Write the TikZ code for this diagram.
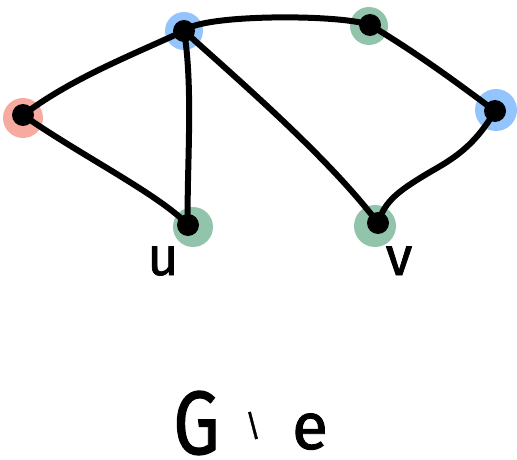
\documentclass[tikz,border=0pt]{standalone}
\usepackage{fontspec}
\setmainfont{Fira Sans}
\newfontfamily\hand[FakeBold=1.3]{Fira Sans}
\definecolor{hlblue}{RGB}{147,196,253}
\definecolor{hlred}{RGB}{247,170,160}
\definecolor{hlgreen}{RGB}{145,196,170}
\tikzset{
  dot/.style={circle,fill=black,inner sep=0pt,minimum size=22pt},
  edge/.style={line width=6pt,line cap=round,line join=round},
  lbl/.style={font=\hand\fontsize{54}{58}\selectfont,inner sep=0pt}
}
\begin{document}
\begin{tikzpicture}[x=1pt,y=-1pt]
\useasboundingbox (0,0) rectangle (517,460);
% highlights
\fill[hlblue] (184,31) circle (19);
\fill[hlred] (23,118) circle (20);
\fill[hlgreen] (193,227) circle (20);
\fill[hlgreen] (369,26) circle (19);
\fill[hlblue] (496,110) circle (21);
\fill[hlgreen] (375,226) circle (21);
% vertices
\node[dot] (A) at (184,31) {};
\node[dot] (L) at (23,115) {};
\node[dot] (u) at (188,225) {};
\node[dot] (T) at (370,25) {};
\node[dot] (R) at (495,111) {};
\node[dot] (v) at (378,223) {};
\coordinate (rv) at (430,172);
% edges
\draw[edge] (A.center) .. controls (120,60) and (70,80) .. (L.center);
\draw[edge] (L.center) .. controls (80,155) and (160,195) .. (u.center);
\draw[edge] (A.center) .. controls (194,90) and (186,180) .. (u.center);
\draw[edge] (A.center) .. controls (200,14) and (340,14) .. (T.center);
\draw[edge] (T.center) .. controls (420,55) and (460,85) .. (R.center);
\draw[edge] (R.center) .. controls (475,145) and (455,158) .. (rv) .. controls (400,190) and (385,200) .. (v.center);
\draw[edge] (A.center) .. controls (250,90) and (330,160) .. (v.center);
% labels
\node[lbl,anchor=base] (ul) at (163,275) {u};
\node[lbl,anchor=base] (vl) at (399,275) {v};
\node[lbl,anchor=base west,font=\hand\fontsize{90}{94}\selectfont] (tG) at (173,454) {\scalebox{0.82}[1]{G}};
\node[lbl,anchor=base,font=\hand\fontsize{30}{34}\selectfont] (tm) at (253,436) {\textbackslash};
\node[lbl,anchor=base,font=\hand\fontsize{66}{70}\selectfont] (te) at (310,449) {e};
\end{tikzpicture}
\end{document}
